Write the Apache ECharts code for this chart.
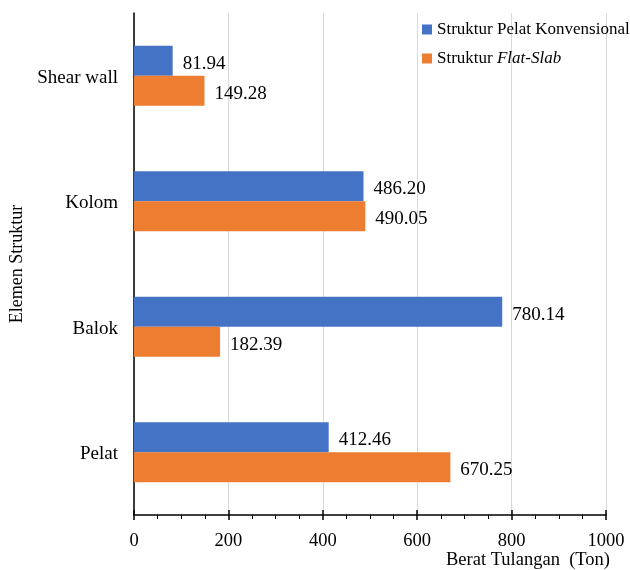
<!DOCTYPE html>
<html><head><meta charset="utf-8">
<script src="https://cdn.jsdelivr.net/npm/echarts@6/dist/echarts.min.js"></script>
<style>html,body{margin:0;padding:0;background:#fff}#c{width:630px;height:570px}</style>
</head><body><div id="c"></div>
<script>
var categories = ['Shear wall', 'Kolom', 'Balok', 'Pelat'];
var konvensional = [81.94, 486.20, 780.14, 412.46];
var flatSlab = [149.28, 490.05, 182.39, 670.25];
var seriesNames = ['Struktur Pelat Konvensional', 'Struktur Flat-Slab'];
var xTicks = [0, 200, 400, 600, 800, 1000];

var F = 'Liberation Serif, Times New Roman, serif';
var FS = 19;
var chart = echarts.init(document.getElementById('c'));
var lbl = {show: true, position: 'right', distance: 10, color: '#000', fontFamily: F, fontSize: FS,
  offset: [0, 3],
  formatter: function(p){ return p.value.toFixed(2); }};
chart.setOption({
  animation: false,
  grid: {left: 134, right: 24, top: 13, bottom: 50},
  legend: {
    orient: 'vertical', left: 417, top: 16, itemWidth: 10, itemHeight: 10, itemGap: 12,
    icon: 'rect',
    textStyle: {fontFamily: F, fontSize: 17, color: '#000', rich: {i: {fontFamily: F, fontSize: 17, fontStyle: 'italic', color: '#000'}}},
    formatter: function(n){ return n === seriesNames[1] ? 'Struktur {i|Flat-Slab}' : n; },
    data: seriesNames
  },
  xAxis: [{
    type: 'value', min: xTicks[0], max: xTicks[xTicks.length-1], interval: 200,
    axisLine: {show: true, lineStyle: {color: '#000', width: 1.5}},
    axisTick: {show: true, length: 5, lineStyle: {color: '#000', width: 1.5}},
    minorTick: {show: true, splitNumber: 4, length: 4, lineStyle: {color: '#000', width: 1}},
    axisLabel: {fontFamily: F, fontSize: 18.5, color: '#000', margin: 17, formatter: function(v){ return String(v); }},
    splitLine: {show: true, lineStyle: {color: '#d9d9d9', width: 1}},
    name: 'Berat Tulangan  (Ton)', nameLocation: 'end',
    nameTextStyle: {fontFamily: F, fontSize: 18.5, color: '#000', align: 'right', verticalAlign: 'top', padding: [36, 11, 0, 0]}
  }, {
    type: 'value', position: 'bottom', min: 0, max: 1000, interval: 200,
    axisLine: {show: false},
    axisTick: {show: true, inside: true, length: 5, lineStyle: {color: '#000', width: 1.5}},
    axisLabel: {show: false}, splitLine: {show: false}
  }],
  yAxis: {
    type: 'category', data: categories, inverse: true,
    axisLine: {show: true, lineStyle: {color: '#000', width: 1.5}},
    axisTick: {show: false},
    axisLabel: {fontFamily: F, fontSize: FS, color: '#000', margin: 16,
      formatter: function(v){ return '{a|' + v + '}'; },
      rich: {a: {fontFamily: F, fontSize: FS, color: '#000', padding: [4, 0, 0, 0]}}},
    name: 'Elemen Struktur', nameLocation: 'middle', nameGap: 96, nameRotate: 90,
    nameTextStyle: {fontFamily: F, fontSize: 18, color: '#000'}
  },
  series: [
    {name: seriesNames[0], type: 'bar', data: konvensional, barWidth: 30, barGap: '0%',
     itemStyle: {color: '#4472c4'}, label: lbl},
    {name: seriesNames[1], type: 'bar', data: flatSlab, barWidth: 30, barGap: '0%',
     itemStyle: {color: '#ed7d31'}, label: lbl}
  ]
});
</script></body></html>
